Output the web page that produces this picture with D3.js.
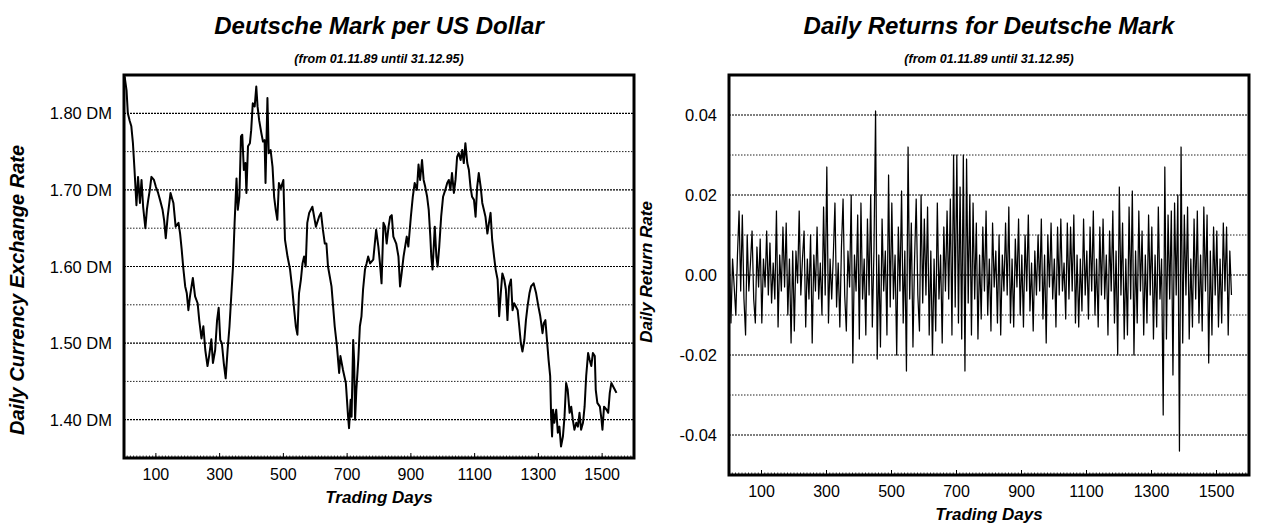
<!DOCTYPE html>
<html><head><meta charset="utf-8">
<script src="https://cdn.jsdelivr.net/npm/d3@7"></script>
<style>
body{margin:0;background:#fff}
svg{display:block}
text{font-family:"Liberation Sans",Arial,Helvetica,sans-serif;fill:#000}
</style>
</head><body>
<svg id="chart" width="1261" height="524"></svg>
<script>
// DM per USD, trading day index and rate
const rateDays = [2,8,12,18,23,28,33,39,44,50,55,60,67,72,76,81,86,94,100,107,113,121,126,131,137,146,150,155,162,171,176,181,186,192,197,202,207,216,223,231,236,243,249,255,262,267,274,279,286,292,297,302,307,313,319,325,331,337,342,347,353,357,362,367,371,376,381,384,389,395,399,404,410,415,419,424,431,436,441,444,450,454,460,466,471,476,481,486,492,500,505,513,521,528,534,539,544,549,555,560,565,570,575,581,591,602,612,618,624,630,635,640,651,661,668,675,679,687,696,703,706,711,714,719,722,725,729,735,740,745,750,756,761,766,772,782,791,798,803,808,814,819,824,830,835,840,845,854,861,866,871,877,887,892,900,906,912,919,924,929,935,940,945,951,956,961,964,968,975,980,984,989,995,1001,1008,1014,1019,1024,1029,1035,1040,1045,1050,1056,1061,1066,1071,1077,1082,1087,1092,1098,1103,1108,1113,1119,1124,1129,1134,1140,1145,1150,1155,1161,1166,1172,1177,1182,1187,1193,1198,1203,1208,1214,1219,1224,1229,1235,1240,1245,1250,1256,1261,1266,1272,1277,1285,1293,1300,1306,1313,1317,1322,1326,1332,1337,1340,1343,1346,1350,1356,1361,1366,1371,1377,1382,1387,1392,1398,1403,1408,1413,1419,1424,1429,1434,1440,1445,1450,1456,1461,1466,1471,1477,1480,1485,1493,1498,1501,1506,1514,1519,1524,1529,1535,1540,1545];
const rateValues = [1.848,1.83,1.80,1.79,1.783,1.761,1.726,1.68,1.717,1.683,1.713,1.678,1.65,1.675,1.687,1.70,1.717,1.713,1.704,1.696,1.687,1.674,1.66,1.637,1.665,1.696,1.69,1.683,1.652,1.657,1.643,1.622,1.598,1.574,1.565,1.543,1.561,1.585,1.561,1.552,1.530,1.506,1.522,1.491,1.47,1.483,1.505,1.474,1.491,1.53,1.546,1.504,1.50,1.474,1.454,1.491,1.522,1.565,1.60,1.657,1.715,1.674,1.691,1.77,1.772,1.726,1.735,1.696,1.757,1.761,1.778,1.813,1.809,1.835,1.809,1.791,1.774,1.763,1.765,1.709,1.82,1.748,1.752,1.73,1.691,1.674,1.661,1.709,1.702,1.713,1.635,1.613,1.596,1.57,1.543,1.522,1.511,1.565,1.583,1.604,1.613,1.60,1.657,1.67,1.678,1.652,1.665,1.67,1.648,1.63,1.63,1.60,1.574,1.522,1.496,1.461,1.483,1.465,1.448,1.404,1.389,1.426,1.404,1.504,1.478,1.40,1.439,1.478,1.522,1.535,1.57,1.596,1.604,1.613,1.604,1.609,1.648,1.626,1.604,1.578,1.657,1.652,1.63,1.652,1.665,1.667,1.639,1.63,1.613,1.574,1.591,1.613,1.639,1.626,1.665,1.691,1.709,1.70,1.733,1.713,1.739,1.713,1.704,1.691,1.674,1.639,1.613,1.596,1.652,1.613,1.60,1.626,1.665,1.691,1.70,1.709,1.713,1.70,1.722,1.696,1.713,1.743,1.748,1.739,1.752,1.735,1.761,1.735,1.726,1.704,1.691,1.687,1.665,1.704,1.722,1.704,1.683,1.674,1.665,1.643,1.657,1.67,1.635,1.613,1.596,1.583,1.535,1.565,1.591,1.583,1.57,1.530,1.574,1.583,1.543,1.552,1.548,1.543,1.522,1.50,1.489,1.504,1.530,1.548,1.565,1.574,1.578,1.565,1.548,1.535,1.513,1.526,1.530,1.509,1.478,1.457,1.404,1.378,1.413,1.396,1.413,1.383,1.391,1.365,1.378,1.404,1.448,1.439,1.409,1.417,1.40,1.387,1.396,1.391,1.409,1.387,1.396,1.417,1.457,1.487,1.478,1.47,1.487,1.483,1.439,1.422,1.417,1.40,1.387,1.417,1.413,1.409,1.435,1.448,1.443,1.439,1.435];

// daily returns, one value per 5 trading days starting at day 1
const returnValues = [
  .006,-.012,.004,-.003,-.010,.005,.016,-.004,.015,-.006,
  -.015,.010,-.004,.003,.011,-.006,-.012,.007,-.003,.009,
  -.012,.004,-.003,.011,-.005,.008,-.007,.003,-.006,.016,
  -.013,.005,-.004,.012,-.003,.013,-.010,.004,-.017,.006,
  -.014,.006,-.002,.016,-.005,.004,.011,-.013,.004,-.006,
  .010,-.017,.005,-.004,.012,-.006,.003,-.010,.017,-.005,
  .027,-.012,.004,-.006,.005,.018,-.008,.003,-.013,.007,
  .019,-.005,-.014,.006,-.003,.020,-.022,.005,-.004,.015,
  -.016,.018,-.006,.004,-.015,.014,-.005,.020,-.013,.006,
  .041,-.021,.005,-.018,.014,-.004,.006,-.015,.025,-.008,
  .018,-.006,.005,-.020,.012,-.004,.021,-.012,.006,-.024,
  .032,-.006,.013,-.018,.004,.019,-.005,-.014,.020,-.007,
  .014,-.005,.017,-.015,.006,-.020,.004,-.014,.018,-.006,
  .005,-.017,.012,-.004,.016,-.006,.019,-.015,.030,-.008,
  .030,-.012,.022,-.016,.030,-.024,.029,-.007,.020,-.015,
  .018,-.006,.013,-.016,.005,-.011,.012,-.004,.016,-.010,
  .004,-.014,.013,-.003,.006,-.012,.010,-.015,.005,-.004,
  .013,-.005,.017,-.012,.004,-.013,.009,-.003,.014,-.010,
  .005,-.013,.010,-.004,.015,-.009,.003,-.014,.006,-.005,
  .010,-.004,.014,-.011,.005,-.017,.010,-.003,.013,-.006,
  .004,-.013,.012,-.005,.014,-.004,.003,-.011,.013,-.006,
  .012,-.004,.015,-.012,.005,-.013,.004,-.009,.014,-.005,
  .006,-.011,.012,-.004,.016,-.010,.004,-.013,.012,-.005,
  .014,-.006,.005,-.015,.011,-.004,.016,-.012,.006,-.020,
  .022,-.005,.013,-.016,.004,-.015,.017,-.006,.021,-.020,
  .006,-.012,.016,-.004,.011,-.015,.005,-.012,.015,-.005,
  .012,-.016,.005,-.013,.017,-.006,.004,-.035,.027,-.016,
  .015,-.006,.016,-.025,.018,-.005,.020,-.044,.032,-.017,
  .015,-.005,.017,-.016,.004,-.013,.014,-.006,.016,-.012,
  .005,-.014,.017,-.004,.015,-.022,.006,-.015,.012,-.005,
  .011,-.013,.004,-.012,.013,-.004,.012,-.015,.006,-.005];
const returnDays = d3.range(returnValues.length).map(i => 1 + 5*i);

// axis ticks and labels
const dayTicks = [100,300,500,700,900,1100,1300,1500];
const rateMajorTicks = [1.40,1.50,1.60,1.70,1.80];
const rateMinorTicks = [1.45,1.55,1.65,1.75];
const rateTickLabels = ["1.40 DM","1.50 DM","1.60 DM","1.70 DM","1.80 DM"];
const returnMajorTicks = [-0.04,-0.02,0.00,0.02,0.04];
const returnMinorTicks = [-0.03,-0.01,0.01,0.03];
const returnTickLabels = ["-0.04","-0.02","0.00","0.02","0.04"];

const svg = d3.select("#chart");
svg.append("rect").attr("width",1261).attr("height",524).attr("fill","#fff");

function panel(cfg){
  const g = svg.append("g").attr("transform",`translate(${cfg.left},${cfg.top})`);
  const x = d3.scaleLinear().domain([0,1600]).range([0,cfg.width]);
  const y = d3.scaleLinear().domain(cfg.yDomain).range([cfg.height,0]);

  // horizontal grid lines
  g.selectAll(".gmin").data(cfg.minor).join("line")
    .attr("x1",0).attr("x2",cfg.width)
    .attr("y1",d=>y(d)).attr("y2",d=>y(d))
    .attr("stroke","#222").attr("stroke-width",1).attr("stroke-dasharray","1.5,1.5");
  g.selectAll(".gmaj").data(cfg.major).join("line")
    .attr("x1",0).attr("x2",cfg.width)
    .attr("y1",d=>y(d)).attr("y2",d=>y(d))
    .attr("stroke","#000").attr("stroke-width",1.2).attr("stroke-dasharray","2,1");

  // series
  const line = d3.line().x(d=>x(d[0])).y(d=>y(d[1]));
  g.append("path").datum(d3.zip(cfg.xs,cfg.ys))
    .attr("d",line).attr("fill","none").attr("stroke","#000")
    .attr("stroke-width",cfg.lineWidth).attr("stroke-linejoin","round");

  // small ticks along the bottom edge
  const minorDays = d3.range(0,1601,10);
  g.selectAll(".mt").data(minorDays).join("line")
    .attr("x1",d=>x(d)).attr("x2",d=>x(d))
    .attr("y1",cfg.height).attr("y2",cfg.height-2.5)
    .attr("stroke","#000").attr("stroke-width",0.8);
  g.selectAll(".Mt").data(dayTicks).join("line")
    .attr("x1",d=>x(d)).attr("x2",d=>x(d))
    .attr("y1",cfg.height).attr("y2",cfg.height-5)
    .attr("stroke","#000").attr("stroke-width",1);

  // frame
  g.append("rect").attr("x",0).attr("y",0).attr("width",cfg.width).attr("height",cfg.height)
    .attr("fill","none").attr("stroke","#000").attr("stroke-width",3);

  // tick labels
  g.selectAll(".xl").data(dayTicks).join("text")
    .attr("x",d=>x(d)).attr("y",cfg.height+22)
    .attr("text-anchor","middle").style("font-size","16px").text(d=>d);
  g.selectAll(".yl").data(cfg.major).join("text")
    .attr("x",-12).attr("y",d=>y(d)+6)
    .attr("text-anchor","end").style("font-size","16.5px")
    .text((d,i)=>cfg.labels[i]);

  // titles
  const cx = cfg.left+cfg.width/2;
  svg.append("text").attr("x",cx).attr("y",34)
    .attr("text-anchor","middle").style("font-size","24px")
    .style("font-weight","bold").style("font-style","italic").text(cfg.title);
  svg.append("text").attr("x",cx).attr("y",63)
    .attr("text-anchor","middle").style("font-size","12.5px")
    .style("font-weight","bold").style("font-style","italic").text("(from 01.11.89 until 31.12.95)");
  svg.append("text").attr("x",cx).attr("y",cfg.top+cfg.height+45)
    .attr("text-anchor","middle").style("font-size","17px")
    .style("font-weight","bold").style("font-style","italic").text("Trading Days");
  svg.append("text")
    .attr("transform",`translate(${cfg.yTitleX},${cfg.yTitleY}) rotate(-90)`)
    .attr("text-anchor","middle").style("font-size",cfg.yTitleSize)
    .style("font-weight","bold").style("font-style","italic").text(cfg.yTitle);
}

panel({left:124, top:75, width:510, height:383, yDomain:[1.35,1.85],
  major:rateMajorTicks, minor:rateMinorTicks, labels:rateTickLabels,
  xs:rateDays, ys:rateValues, lineWidth:2,
  title:"Deutsche Mark per US Dollar",
  yTitle:"Daily Currency Exchange Rate", yTitleX:24, yTitleY:290, yTitleSize:"20px"});

panel({left:729, top:75, width:520, height:400, yDomain:[-0.05,0.05],
  major:returnMajorTicks, minor:returnMinorTicks, labels:returnTickLabels,
  xs:returnDays, ys:returnValues, lineWidth:1.25,
  title:"Daily Returns for Deutsche Mark",
  yTitle:"Daily Return Rate", yTitleX:652, yTitleY:272, yTitleSize:"17px"});
</script>
</body></html>
